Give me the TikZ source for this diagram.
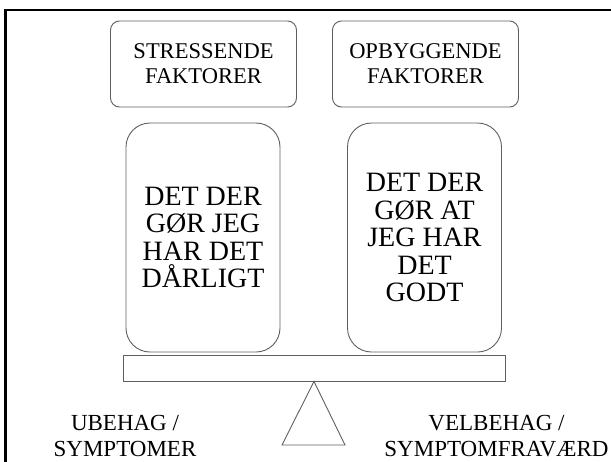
\documentclass[tikz,border=0pt]{standalone}
\usepackage{fontspec}
\setmainfont{Liberation Serif}
\usetikzlibrary{positioning}
\definecolor{boxgray}{RGB}{95,95,95}
\begin{document}
\begin{tikzpicture}[
	x=1pt, y=-1pt,
	every node/.style={align=center, inner sep=0pt},
	factorbox/.style={shape=rectangle, rounded corners=9pt, draw=boxgray, line width=0.9pt, minimum width=186pt, minimum height=86pt, font=\fontsize{22.5}{25}\selectfont},
	bigbox/.style={shape=rectangle, rounded corners=24pt, draw=boxgray, line width=0.9pt, minimum width=154pt, minimum height=229pt, font=\fontsize{28}{27.5}\selectfont},
	beambox/.style={shape=rectangle, draw=boxgray, line width=0.9pt, minimum width=382pt, minimum height=26pt},
	labeltext/.style={font=\fontsize{23}{26}\selectfont},
]
\useasboundingbox (0,0) rectangle (611,461);
% outer frame, cut off at the right and bottom
\draw[line width=2.5pt] (5.5,470) -- (5.5,10) -- (620,10);

\node[factorbox] (stress) at (203.5,64) {STRESSENDE\\FAKTORER};
\node[factorbox] (opbyg) at (425.5,64) {OPBYGGENDE\\FAKTORER};

\node[bigbox] (bad) at (203,237.5) {DET DER\\GØR JEG\\HAR DET\\DÅRLIGT};
\node[bigbox] (good) at (424.5,237.5) {DET DER\\GØR AT\\JEG HAR\\DET\\GODT};

\node[beambox] (beam) at (314,368) {};
\coordinate (baseL) at (282,445);
\coordinate (baseR) at (345,445);
\draw[boxgray, line width=0.9pt] (beam.south) -- (baseR) -- (baseL) -- cycle;

\node[labeltext] (ubehag) at (125,436) {UBEHAG /\\SYMPTOMER};
\node[labeltext] (velbehag) at (496.5,436) {VELBEHAG /\\SYMPTOMFRAVÆRD};
\end{tikzpicture}
\end{document}
